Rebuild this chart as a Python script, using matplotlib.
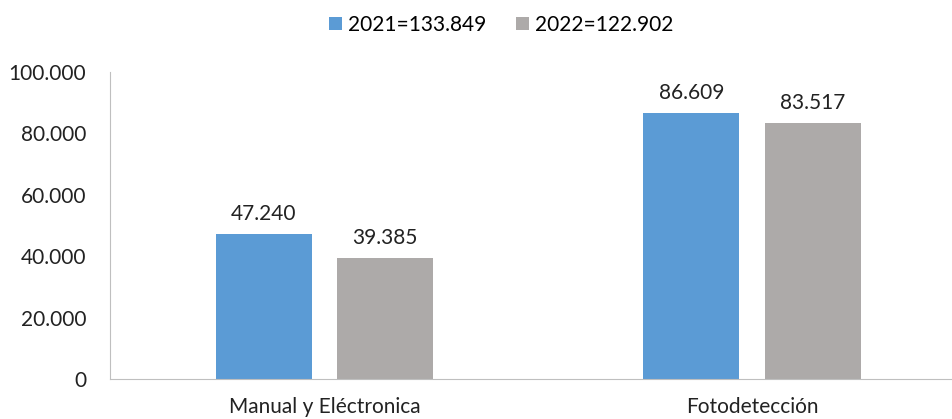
import matplotlib.pyplot as plt
import numpy as np
from matplotlib.ticker import FuncFormatter

categorias = ['Manual y Eléctronica', 'Fotodetección']
valores_2021 = [47240, 86609]
valores_2022 = [39385, 83517]
etiquetas_leyenda = ['2021=133.849', '2022=122.902']

plt.rcParams['font.family'] = ['Lato', 'DejaVu Sans']

def miles(v):
    return f'{v:,.0f}'.replace(',', '.')

fig = plt.figure(figsize=(9.53, 4.19), dpi=100)
ax = fig.add_axes([0.1154, 0.0955, 0.8846, 0.7325])

x = np.arange(len(categorias))
ancho = 0.225
b1 = ax.bar(x - 0.142, valores_2021, ancho, color='#5B9BD5', label=etiquetas_leyenda[0])
b2 = ax.bar(x + 0.142, valores_2022, ancho, color='#ADAAA9', label=etiquetas_leyenda[1])

for barras in (b1, b2):
    for b in barras:
        ax.annotate(miles(b.get_height()), (b.get_x() + b.get_width() / 2, b.get_height()),
                    xytext=(0, 7), textcoords='offset points', ha='center', va='bottom',
                    fontsize=15, color='#222222')

ax.set_ylim(0, 100000)
ax.set_yticks(np.arange(0, 100001, 20000))
ax.yaxis.set_major_formatter(FuncFormatter(lambda v, p: miles(v)))
ax.set_xlim(-0.502, 1.47)
ax.set_xticks(x)
ax.set_xticklabels(categorias)
ax.tick_params(axis='both', length=0, labelsize=15, colors='#222222')
ax.tick_params(axis='x', pad=13)
ax.tick_params(axis='y', pad=17)

for lado in ['top', 'right']:
    ax.spines[lado].set_visible(False)
ax.spines['left'].set_color('#BFBFBF')
ax.spines['bottom'].set_color('#BFBFBF')

fig.legend(loc='upper center', bbox_to_anchor=(0.526, 1.01), ncol=2, frameon=False,
           fontsize=15, handlelength=0.6, handleheight=0.6, handletextpad=0.3,
           columnspacing=1.45)

fig.savefig('out.png', dpi=100)
